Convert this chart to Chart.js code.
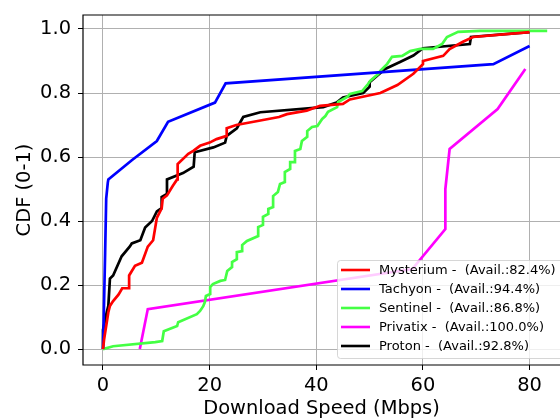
<!DOCTYPE html>
<html>
<head>
<meta charset="utf-8">
<script src="https://cdn.jsdelivr.net/npm/chart.js@4.4.1/dist/chart.umd.min.js"></script>
<style>
  html, body { margin: 0; padding: 0; background: #fff; }
  #wrap { width: 560px; height: 420px; }
</style>
</head>
<body>
<div id="wrap"><canvas id="cdf" width="560" height="420"></canvas></div>
<script>
// series labels and colours
const labels = [
    'Mysterium -  (Avail.:82.4%)',
    'Tachyon -  (Avail.:94.4%)',
    'Sentinel -  (Avail.:86.8%)',
    'Privatix -  (Avail.:100.0%)',
    'Proton -  (Avail.:92.8%)'
];
const colors = ['#ff0000', '#0000ff', '#44ff44', '#ff00ff', '#000000'];

// download speed (Mbps) and CDF values
const mysteriumX = [0, 0.2, 1, 1.3, 1.9, 2.9, 3.6, 4.9, 4.9, 6, 7.3, 8.4, 9.4, 10.1, 11, 11.2, 12, 13.1, 13.9, 14, 16, 17, 18.2, 20, 21.3, 23.2, 23.2, 25, 33, 34.5, 38.2, 40.7, 45, 46.3, 52, 53.3, 55.2, 58.2, 60, 60, 63.8, 65, 67.5, 69.4, 80];
const mysteriumY = [0, 0.03, 0.115, 0.135, 0.15, 0.17, 0.19, 0.19, 0.23, 0.26, 0.27, 0.32, 0.34, 0.41, 0.44, 0.47, 0.48, 0.51, 0.53, 0.578, 0.61, 0.62, 0.635, 0.645, 0.656, 0.666, 0.69, 0.70, 0.725, 0.734, 0.745, 0.76, 0.766, 0.78, 0.80, 0.81, 0.825, 0.86, 0.89, 0.90, 0.916, 0.937, 0.96, 0.975, 0.99];

const tachyonX = [0, 0.1, 0.4, 0.6, 0.9, 1, 5.4, 10.1, 12.2, 21, 23, 73.2, 80];
const tachyonY = [0, 0.07, 0.3, 0.47, 0.52, 0.53, 0.59, 0.65, 0.71, 0.77, 0.83, 0.89, 0.947];

const sentinelX = [0, 1.9, 9.8, 11.1, 11.4, 13.9, 14.1, 17.6, 18.2, 18.8, 19.1, 19.3, 20.1, 20.1, 20.6, 22, 22.9, 23.3, 24.2, 24.2, 25.1, 25.1, 26.1, 26.1, 27, 29.1, 29.1, 30, 30, 31, 31, 31.9, 31.9, 32.8, 33.2, 34.1, 34.1, 35.1, 35.1, 36, 36, 37, 37.3, 38.3, 38.3, 39.2, 40.2, 41.1, 41.7, 42.2, 43.9, 44.1, 45.8, 46.3, 48.6, 49.7, 50.1, 51.6, 52, 53.3, 54.2, 56.1, 57.6, 59.5, 61.9, 63.6, 64.5, 66.6, 70.7, 83.3];
const sentinelY = [0, 0.009, 0.022, 0.025, 0.056, 0.072, 0.084, 0.109, 0.119, 0.134, 0.147, 0.166, 0.172, 0.194, 0.203, 0.213, 0.216, 0.244, 0.256, 0.272, 0.281, 0.303, 0.306, 0.325, 0.338, 0.353, 0.381, 0.388, 0.413, 0.422, 0.438, 0.444, 0.478, 0.491, 0.516, 0.522, 0.553, 0.563, 0.584, 0.584, 0.619, 0.625, 0.65, 0.663, 0.681, 0.694, 0.697, 0.719, 0.728, 0.741, 0.756, 0.772, 0.788, 0.797, 0.806, 0.828, 0.838, 0.859, 0.869, 0.891, 0.913, 0.916, 0.931, 0.938, 0.938, 0.953, 0.975, 0.991, 0.994, 0.994];

const privatixX = [6.9, 8.4, 58, 64.2, 64.2, 65, 74, 79.2];
const privatixY = [0, 0.125, 0.25, 0.375, 0.5, 0.625, 0.75, 0.875];

const protonX = [0, 0, 0.7, 1, 1.3, 1.9, 3.5, 5, 5.4, 7, 7.9, 9.2, 10.1, 11, 11, 12, 12, 15, 17, 17.2, 20.7, 22.9, 23.2, 25.1, 26.3, 29.5, 41.3, 43.8, 45, 48.8, 50, 50, 52.9, 55.7, 58.2, 60, 68.8, 69, 80];
const protonY = [0, 0.06, 0.115, 0.135, 0.22, 0.23, 0.29, 0.32, 0.33, 0.34, 0.38, 0.40, 0.43, 0.44, 0.475, 0.485, 0.53, 0.55, 0.57, 0.615, 0.63, 0.645, 0.666, 0.69, 0.725, 0.74, 0.756, 0.77, 0.786, 0.80, 0.82, 0.834, 0.875, 0.897, 0.917, 0.94, 0.953, 0.975, 0.99];

const xTicks = [0, 20, 40, 60, 80];
const yTicks = [0, 0.2, 0.4, 0.6, 0.8, 1.0];

const seriesX = [mysteriumX, tachyonX, sentinelX, privatixX, protonX];
const seriesY = [mysteriumY, tachyonY, sentinelY, privatixY, protonY];

function toPoints(xs, ys) {
    return xs.map(function(x, i) { return { x: x, y: ys[i] }; });
}

const FONT = 'DejaVu Sans';
const BIG = 19.44;

// axes frame (left, top, bottom) + legend box in the lower right corner
const framePlugin = {
    id: 'frame',
    afterDatasetsDraw: function(chart) {
        const ctx = chart.ctx;
        const a = chart.chartArea;
        ctx.save();
        ctx.strokeStyle = '#000';
        ctx.lineWidth = 1.2;
        ctx.beginPath();
        ctx.moveTo(a.right + 5, a.top);
        ctx.lineTo(a.left, a.top);
        ctx.lineTo(a.left, a.bottom);
        ctx.lineTo(a.right + 5, a.bottom);
        ctx.stroke();
        ctx.restore();
    },
    afterDraw: function(chart) {
        const ctx = chart.ctx;
        const a = chart.chartArea;
        const boxL = 337, boxT = 260, boxR = a.right + 10, boxB = 358;
        ctx.save();
        ctx.fillStyle = 'rgba(255,255,255,0.8)';
        ctx.strokeStyle = 'rgba(204,204,204,0.8)';
        ctx.lineWidth = 1;
        ctx.beginPath();
        ctx.roundRect(boxL + 0.5, boxT + 0.5, boxR - boxL, boxB - boxT, 3);
        ctx.fill();
        ctx.stroke();
        ctx.font = '13px "' + FONT + '"';
        ctx.textBaseline = 'middle';
        chart.data.datasets.forEach(function(ds, i) {
            const y = 270 + i * 19;
            ctx.strokeStyle = ds.borderColor;
            ctx.lineWidth = 2.6;
            ctx.beginPath();
            ctx.moveTo(341, y);
            ctx.lineTo(370, y);
            ctx.stroke();
            ctx.fillStyle = '#000';
            ctx.fillText(ds.label, 379, y + 1);
        });
        ctx.restore();
    }
};

new Chart(document.getElementById('cdf'), {
    type: 'scatter',
    data: {
        datasets: labels.map(function(label, i) {
            return {
                label: label,
                data: toPoints(seriesX[i], seriesY[i]),
                showLine: true,
                borderColor: colors[i],
                backgroundColor: colors[i],
                borderWidth: 2.7,
                pointRadius: 0,
                tension: 0
            };
        })
    },
    options: {
        responsive: false,
        animation: false,
        layout: { padding: { top: 15, right: 0, left: 0, bottom: 0 } },
        plugins: {
            legend: { display: false },
            tooltip: { enabled: false }
        },
        scales: {
            x: {
                type: 'linear',
                min: -3.75,
                max: 85.7,
                afterBuildTicks: function(axis) {
                    axis.ticks = xTicks.map(function(v) { return { value: v }; });
                },
                afterFit: function(axis) {
                    axis.height = 55;
                    axis.paddingLeft = 0;
                    axis.paddingRight = 0;
                },
                grid: { color: '#b0b0b0', lineWidth: 1, tickLength: 5, tickColor: '#000' },
                border: { display: false },
                ticks: {
                    color: '#000',
                    font: { family: FONT, size: BIG },
                    padding: 4,
                    maxRotation: 0,
                    callback: function(v) { return v; }
                },
                title: {
                    display: true,
                    text: 'Download Speed (Mbps)',
                    color: '#000',
                    font: { family: FONT, size: BIG },
                    padding: { top: 0, bottom: -1 }
                }
            },
            y: {
                type: 'linear',
                min: -0.0497,
                max: 1.0437,
                afterBuildTicks: function(axis) {
                    axis.ticks = yTicks.map(function(v) { return { value: v }; });
                },
                afterFit: function(axis) {
                    axis.width = 83;
                    axis.paddingTop = 0;
                    axis.paddingBottom = 0;
                },
                grid: { color: '#b0b0b0', lineWidth: 1, tickLength: 5, tickColor: '#000' },
                border: { display: false },
                ticks: {
                    color: '#000',
                    font: { family: FONT, size: BIG },
                    padding: 7,
                    callback: function(v) { return v.toFixed(1); }
                },
                title: {
                    display: true,
                    text: 'CDF (0-1)',
                    color: '#000',
                    font: { family: FONT, size: BIG },
                    padding: { top: 13, bottom: 0 }
                }
            }
        }
    },
    plugins: [framePlugin]
});
</script>
</body>
</html>
